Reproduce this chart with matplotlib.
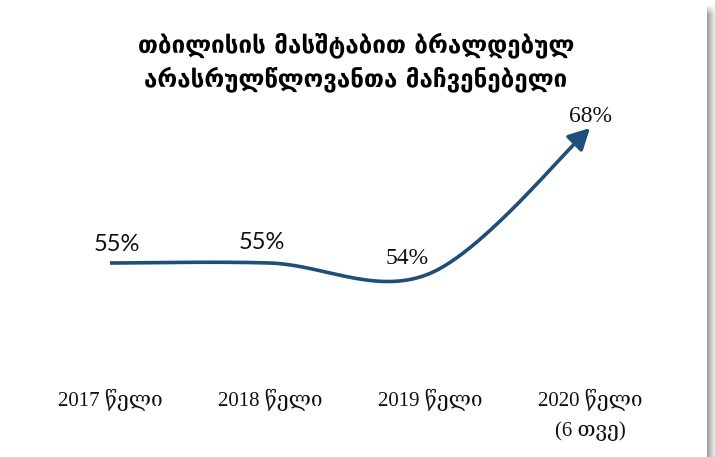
import numpy as np
import matplotlib
matplotlib.use('Agg')
import matplotlib.pyplot as plt

title = "თბილისის მასშტაბით ბრალდებულ\nარასრულწლოვანთა მაჩვენებელი"
categories = ["2017 წელი", "2018 წელი", "2019 წელი", "2020 წელი\n(6 თვე)"]
values = [55, 55, 54, 68]
value_labels = ["55%", "55%", "54%", "68%"]

line_color = "#1f4e79"
W, H = 715, 457

fig = plt.figure(figsize=(W / 100, H / 100), dpi=100)
fig.patch.set_facecolor("white")

ax = fig.add_axes([30 / W, 1 - 360 / H, 640 / W, 260 / H])
ax.set_xlim(-0.5, len(values) - 0.5)
ax.set_ylim(45.66, 70.70)

x = np.arange(len(values), dtype=float)
y = np.array(values, dtype=float)
pts = np.column_stack([x, y])
P = np.vstack([pts[0], pts, pts[-1]])
t = np.linspace(0, 1, 80)
segs = []
for i in range(1, len(P) - 2):
    p0, p1, p2, p3 = P[i - 1], P[i], P[i + 1], P[i + 2]
    c1 = p1 + (p2 - p0) / 6
    c2 = p2 - (p3 - p1) / 6
    seg = (((1 - t) ** 3)[:, None] * p1 + (3 * (1 - t) ** 2 * t)[:, None] * c1
           + (3 * (1 - t) * t ** 2)[:, None] * c2 + (t ** 3)[:, None] * p2)
    segs.append(seg if i == 1 else seg[1:])
curve = np.vstack(segs)

cut = 10
ax.plot(curve[:-cut + 1, 0], curve[:-cut + 1, 1], color=line_color, lw=2.6,
        solid_capstyle='butt')
ax.annotate("", xy=(curve[-1, 0], curve[-1, 1]), xytext=(curve[-cut, 0], curve[-cut, 1]),
            arrowprops=dict(arrowstyle='-|>,head_length=0.8,head_width=0.42', color=line_color,
                            lw=2.6, shrinkA=0, shrinkB=0, mutation_scale=16))

offsets = [(7, 19), (-8, 21), (-23, 15), (0, 12)]
fams = [["Lato", "DejaVu Sans"], ["Lato", "DejaVu Sans"],
        ["Liberation Serif", "DejaVu Serif"], ["Liberation Serif", "DejaVu Serif"]]
sizes = [17, 17, 17, 17]
for xi, yi, lab, off, fam, fs in zip(x, y, value_labels, offsets, fams, sizes):
    ax.annotate(lab, xy=(xi, yi), xytext=off, textcoords='offset pixels',
                ha='center', va='center', fontsize=fs, family=fam, color='#111111')

ax.set_xticks(x)
ax.set_xticklabels(categories, family=["Liberation Serif", "DejaVu Serif"], fontsize=15,
                   color='#111111', linespacing=1.7)
ax.tick_params(axis='x', length=0, pad=21)
ax.set_yticks([])
for s in ax.spines.values():
    s.set_visible(False)

fig.text(0.498, 1 - 62 / H, title, ha='center', va='center', fontsize=17.4,
         fontweight='bold', family=["DejaVu Sans"], linespacing=1.4, color='#000000')

# right-edge shadow
sax = fig.add_axes([707 / W, 0, 8 / W, (H - 4) / H])
sax.set_axis_off()
gx = np.linspace(0, 1, 8)
hgrad = 0.62 + 0.3 * gx
vfade = np.clip(np.arange(H - 4) / 10.0, 0, 1)
img = 1 - (1 - hgrad[None, :]) * vfade[:, None]
sax.imshow(img, cmap='gray', vmin=0, vmax=1, aspect='auto', interpolation='nearest')

fig.savefig("out.png", dpi=100)
